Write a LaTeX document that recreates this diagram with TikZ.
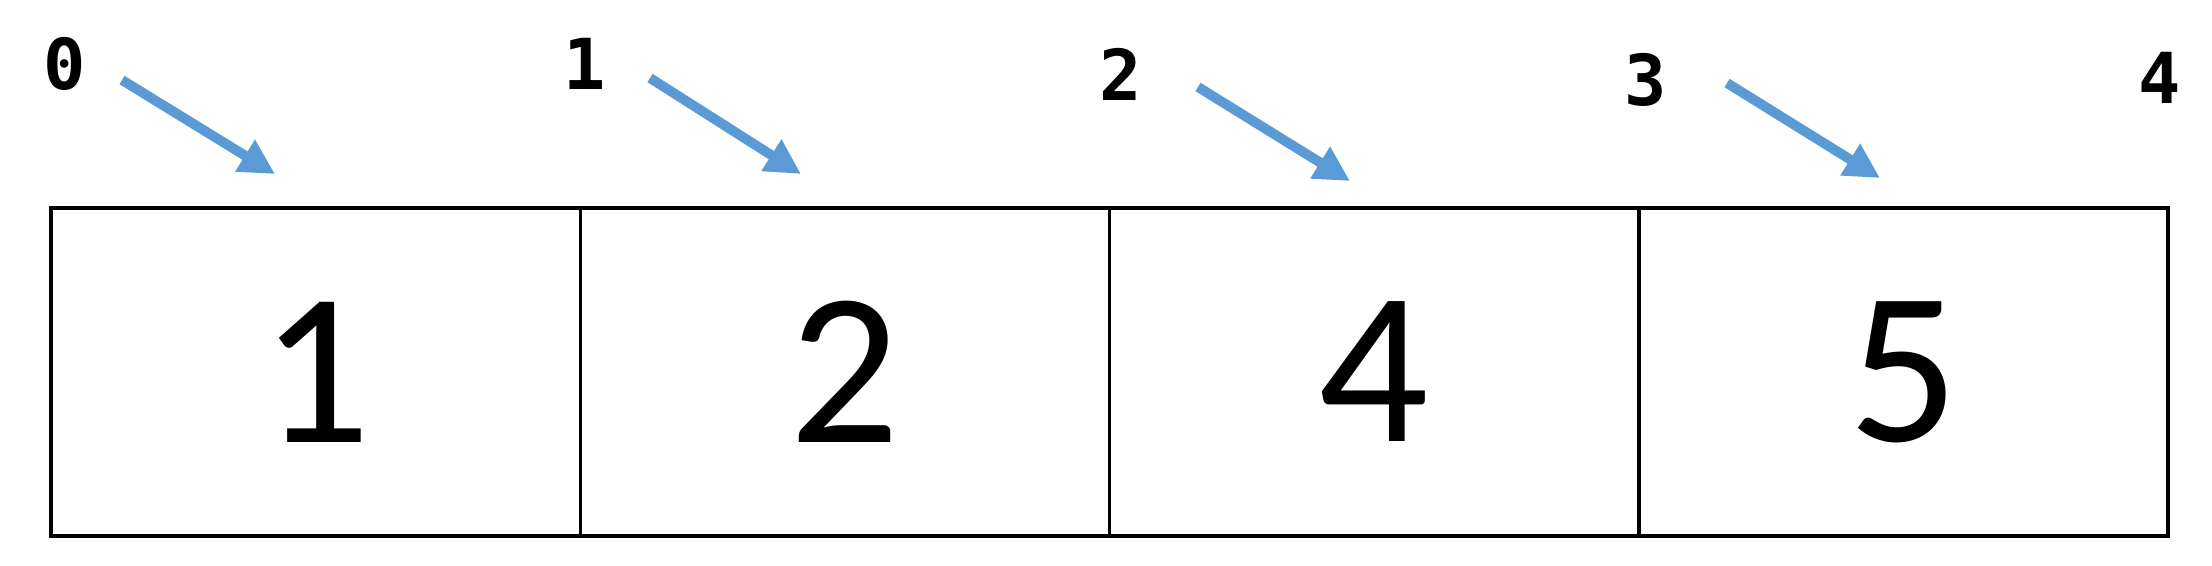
\documentclass[tikz,border=0pt]{standalone}
\usepackage{fontspec}
\setmainfont{Carlito}
\newfontfamily\monofnt{DejaVu Sans Mono}
\usetikzlibrary{arrows.meta}
\definecolor{arrowblue}{HTML}{5B9BD5}
\tikzset{
  cell/.style={draw=black, line width=1pt, minimum width=5.2925cm, minimum height=3.28cm, inner sep=0pt, outer sep=0pt, font=\fontsize{62}{62}\selectfont},
  idx/.style={inner sep=0pt, font=\monofnt\bfseries\fontsize{20}{20}\selectfont},
  ptr/.style={draw=arrowblue, line width=2.8pt, -{Triangle[length=10pt,width=10pt]}}
}
\begin{document}
\begin{tikzpicture}
\useasboundingbox (0,0) rectangle (22.12,-5.65);
% cells
\node[cell] (c0) at (3.1563,-3.72) {1};
\node[cell] (c1) at (8.4488,-3.72) {2};
\node[cell] (c2) at (13.7413,-3.72) {4};
\node[cell] (c3) at (19.0338,-3.72) {5};
% index labels
\node[idx] (i0) at (0.65,-0.64) {0};
\node[idx] (i1) at (5.85,-0.64) {1};
\node[idx] (i2) at (11.21,-0.74) {2};
\node[idx] (i3) at (16.46,-0.80) {3};
\node[idx] (i4) at (21.60,-0.78) {4};
% arrow endpoints
\coordinate (s0) at (1.22,-0.80);  \coordinate (t0) at (2.75,-1.74);
\coordinate (s1) at (6.50,-0.78);  \coordinate (t1) at (8.01,-1.74);
\coordinate (s2) at (11.98,-0.87); \coordinate (t2) at (13.50,-1.81);
\coordinate (s3) at (17.27,-0.83); \coordinate (t3) at (18.80,-1.78);
\draw[ptr] (s0) -- (t0);
\draw[ptr] (s1) -- (t1);
\draw[ptr] (s2) -- (t2);
\draw[ptr] (s3) -- (t3);
\end{tikzpicture}
\end{document}
